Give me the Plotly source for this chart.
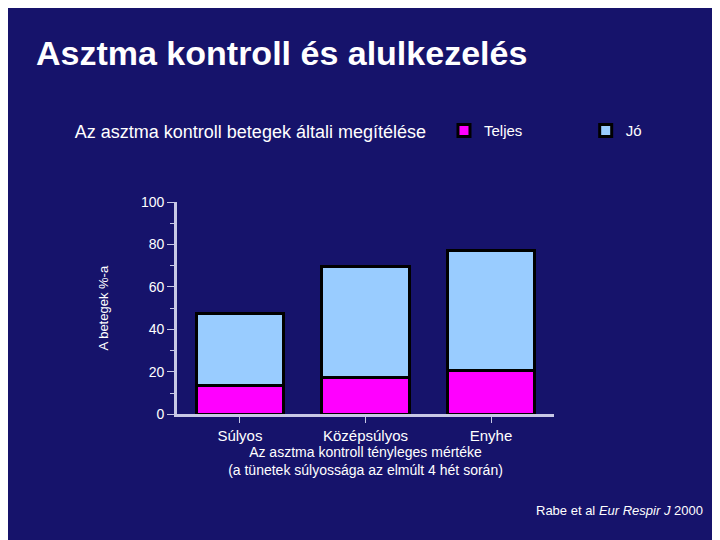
import plotly.graph_objects as go

categories = ["Súlyos", "Középsúlyos", "Enyhe"]
teljes = [13.5, 17.5, 20.5]
jo = [34, 52, 56.5]

fig = go.Figure()
fig.add_bar(x=categories, y=teljes, name="Teljes              ", width=0.7,
            marker=dict(color="#ff00ff", line=dict(color="black", width=3)))
fig.add_bar(x=categories, y=jo, name="Jó", width=0.7,
            marker=dict(color="#99ccff", line=dict(color="black", width=3)))

fig.update_layout(
    width=720, height=540, barmode="stack",
    paper_bgcolor="#16136b", plot_bgcolor="#16136b",
    margin=dict(l=0, r=0, t=0, b=0),
    font=dict(family="Liberation Sans, Arial", color="white", size=14),
    showlegend=True,
    legend=dict(orientation="h", x=0.09, y=0.78, xanchor="left", yanchor="middle",
                title=dict(text="Az asztma kontroll betegek általi megítélése  ", side="left"),
                font=dict(size=15), bgcolor="rgba(0,0,0,0)", traceorder="normal",
                itemwidth=30),
    xaxis=dict(domain=[0.235, 0.758], range=[-0.5, 2.5], showline=True, linecolor="#c8c8e6",
               linewidth=3, ticks="outside", tickcolor="#c8c8e6", ticklen=6,
               showgrid=False, tickfont=dict(size=15),
               title=dict(text="Az asztma kontroll tényleges mértéke<br>(a tünetek súlyossága az elmúlt 4 hét során)",
                          font=dict(size=14), standoff=2)),
    yaxis=dict(domain=[0.24, 0.645], range=[0, 100], dtick=20, showline=True, linecolor="#c8c8e6",
               linewidth=3, ticks="outside", tickcolor="#c8c8e6", ticklen=7, showgrid=False,
               zeroline=False, tickfont=dict(size=14),
               minor=dict(dtick=10, ticks="outside", ticklen=4, tickcolor="#c8c8e6"),
               title=dict(text="A betegek %-a", font=dict(size=13), standoff=30)),
    annotations=[
        dict(text="<b>Asztma kontroll és alulkezelés</b>", x=26/720, y=1-38/540, xref="paper", yref="paper",
             xanchor="left", yanchor="middle", showarrow=False, font=dict(size=34, color="white")),
        dict(text="Rabe et al <i>Eur Respir J</i> 2000", x=697/720, y=1-510/540, xref="paper", yref="paper",
             xanchor="right", yanchor="middle", showarrow=False, font=dict(size=13, color="white")),
    ],
)
fig.write_html("out.html")
